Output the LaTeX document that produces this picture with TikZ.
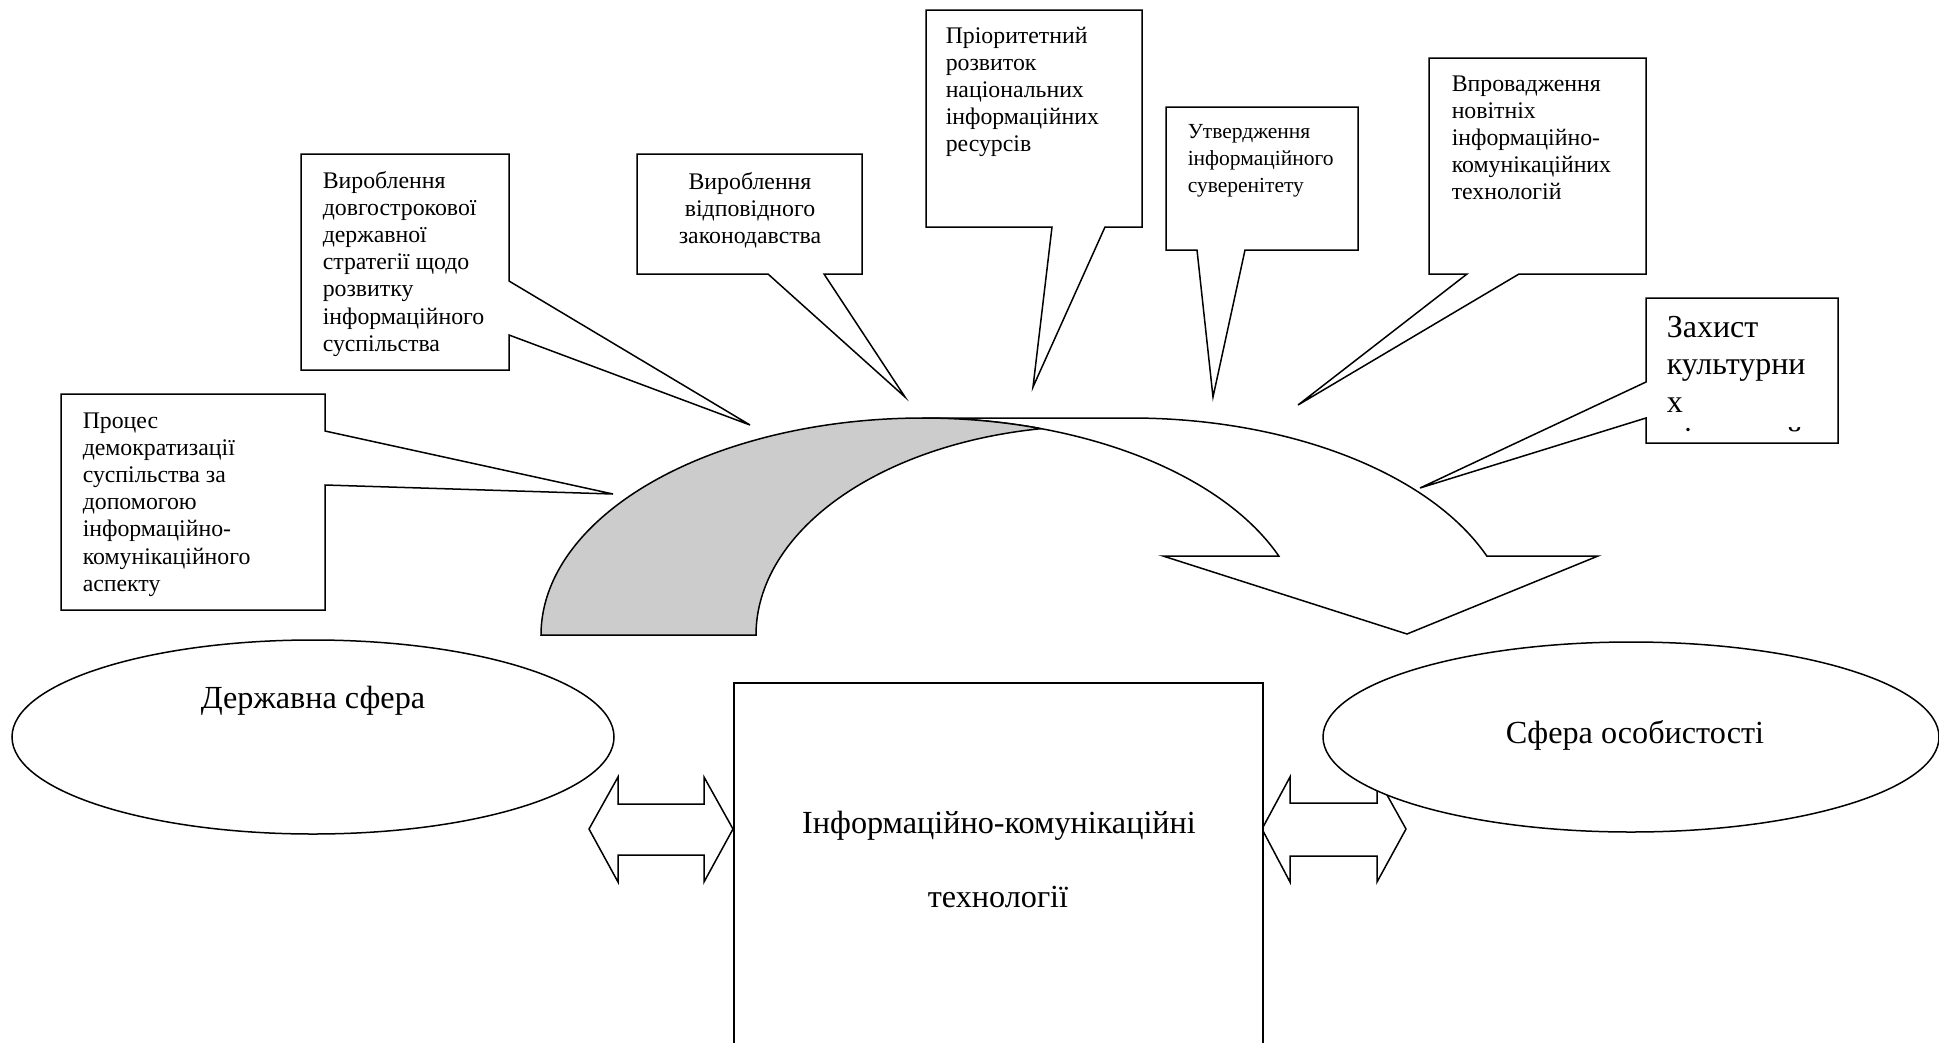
\documentclass[tikz,border=0pt]{standalone}
\usepackage{fontspec}
\setmainfont{Liberation Serif}
\usetikzlibrary{shapes.geometric}
\definecolor{backgrey}{RGB}{204,204,204}
\begin{document}
\begin{tikzpicture}[x=1pt, y=-1pt, line width=1.5pt, line join=miter,
  callout/.style={draw=black, fill=white},
  note/.style={anchor=base west, inner sep=0pt, font=\fontsize{23.8}{27.2}\selectfont},
  smallnote/.style={anchor=base west, inner sep=0pt, font=\fontsize{21.5}{27}\selectfont},
  bignote/.style={anchor=base west, inner sep=0pt, font=\fontsize{32}{37.5}\selectfont},
  label/.style={anchor=base, inner sep=0pt, font=\fontsize{32.2}{36}\selectfont},
  sphere/.style={ellipse, draw=black, fill=white, inner sep=0pt},
  twoway/.style={draw=black, fill=white}]
\useasboundingbox (0,0) rectangle (1939,1042);
\clip (0,0) rectangle (1939,1042);

% curved arrow: front band with the head, then the shaded back band
\draw[fill=white] (923,418) -- (1131,418)
  -- plot[domain=270:338.65, samples=90] ({1131+382*cos(\x)},{635+217*sin(\x)})
  -- (1598,556) -- (1407,634) -- (1163,556)
  -- plot[domain=338.65:270, samples=90] ({923+382*cos(\x)},{635+217*sin(\x)})
  -- cycle;
\draw[fill=backgrey]
  plot[domain=180:287.8, samples=120] ({923+382*cos(\x)},{635+217*sin(\x)})
  -- plot[domain=260.7:180, samples=120] ({1095+339*cos(\x)},{635+209*sin(\x)})
  -- cycle;

% callouts
\draw[callout] (61,394) -- (325,394) -- (325,431) -- (613,494) -- (325,485) -- (325,610) -- (61,610) -- cycle;
\node[note] (c1) at (82,428) {\parbox[t]{300pt}{\raggedright Процес\\демократизації\\суспільства за\\допомогою\\інформаційно-\\комунікаційного\\аспекту}};

\draw[callout] (301,154) -- (509,154) -- (509,281) -- (750,425) -- (509,335) -- (509,370) -- (301,370) -- cycle;
\node[note] (c2) at (322,188) {\parbox[t]{300pt}{\raggedright Вироблення\\довгострокової\\державної\\стратегії щодо\\розвитку\\інформаційного\\суспільства}};

\draw[callout] (637,154) -- (862,154) -- (862,274) -- (824,274) -- (905,397) -- (768,274) -- (637,274) -- cycle;
\node[note, anchor=base] (c3) at (750,189) {\parbox[t]{220pt}{\centering Вироблення\\відповідного\\законодавства}};

\draw[callout] (926,10) -- (1142,10) -- (1142,227) -- (1105,227) -- (1033,387) -- (1052,227) -- (926,227) -- cycle;
\node[note] (c4) at (945,43) {\parbox[t]{300pt}{\raggedright Пріоритетний\\розвиток\\національних\\інформаційних\\ресурсів}};

\draw[callout] (1166,107) -- (1358,107) -- (1358,250) -- (1245,250) -- (1213,397) -- (1197,250) -- (1166,250) -- cycle;
\node[smallnote] (c5) at (1187,138) {\parbox[t]{300pt}{\raggedright Утвердження\\інформаційного\\суверенітету}};

\draw[callout] (1429,58) -- (1646,58) -- (1646,274) -- (1519,274) -- (1298,405) -- (1467,274) -- (1429,274) -- cycle;
\node[note] (c6) at (1451,91) {\parbox[t]{300pt}{\raggedright Впровадження\\новітніх\\інформаційно-\\комунікаційних\\технологій}};

\draw[callout] (1646,298) -- (1838,298) -- (1838,443) -- (1646,443) -- (1646,418) -- (1420,488) -- (1646,382) -- cycle;
\begin{scope}
  \clip (1648,300) rectangle (1836,432);
  \node[bignote] (c7) at (1666,337) {\parbox[t]{300pt}{\raggedright Захист\\культурни\\х\\цінностей}};
\end{scope}

% two-way arrows
\draw[twoway] (589,829) -- (618,777) -- (618,804) -- (704,804) -- (704,777) -- (733,829)
  -- (704,882) -- (704,855) -- (618,855) -- (618,882) -- cycle;
\draw[twoway] (1262,829) -- (1290,777) -- (1290,803) -- (1377,803) -- (1377,777) -- (1406,829)
  -- (1377,882) -- (1377,856) -- (1290,856) -- (1290,882) -- cycle;

% spheres and the central block
\node[sphere, minimum width=602pt, minimum height=194pt] (state) at (313,737) {};
\node[label] (statetext) at (313,708) {Державна сфера};
\node[sphere, minimum width=616pt, minimum height=190pt] (person) at (1631,737) {};
\node[label] (persontext) at (1635,743) {Сфера особистості};

\node[draw=black, fill=white, anchor=north west, minimum width=529pt, minimum height=390pt, inner sep=0pt] (ict) at (733,682) {};
\node[label] (ict1) at (999,833) {Інформаційно-комунікаційні};
\node[label] (ict2) at (998,907) {технології};
\end{tikzpicture}
\end{document}
